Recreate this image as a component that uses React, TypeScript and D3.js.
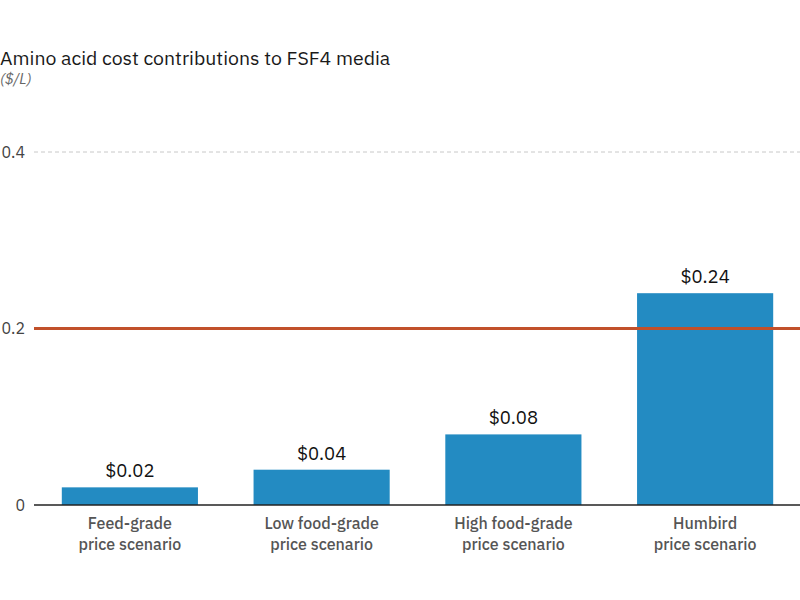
import React from 'react';
import * as d3 from 'd3';

const categories = [
  ['Feed-grade', 'price scenario'],
  ['Low food-grade', 'price scenario'],
  ['High food-grade', 'price scenario'],
  ['Humbird', 'price scenario'],
];
const values = [0.02, 0.04, 0.08, 0.24];
const yTicks = [0, 0.2, 0.4];
const referenceValue = 0.2;

const width = 800;
const height = 600;
const margin = {top: 152, right: 0, bottom: 95, left: 34};

const App: React.FC = () => {
  const x = d3.scaleBand<number>()
    .domain(d3.range(values.length))
    .range([margin.left, width + 1])
    .paddingInner(0.29)
    .paddingOuter(0.145);

  const y = d3.scaleLinear()
    .domain([0, 0.4])
    .range([height - margin.bottom, margin.top]);

  const font = "'IBM Plex Sans', Roboto, 'Noto Sans', sans-serif";

  return (
    <svg width={width} height={height}
         style={{position: 'absolute', left: 0, top: 0, background: '#fff'}}
         fontFamily={font}>
      <text x={0} y={65} fontSize={19.5} fill="#1a1a1a">
        Amino acid cost contributions to FSF4 media
      </text>
      <text x={0} y={84} fontSize={15} fontStyle="italic" fill="#666">($/L)</text>

      {yTicks.map(t => (
        <text key={t} x={25} y={y(t)} dy="0.35em" textAnchor="end"
              fontSize={16} fill="#444">{t === 0 ? '0' : t.toFixed(1)}</text>
      ))}

      {yTicks.filter(t => t !== 0 && t !== referenceValue).map(t => (
        <line key={t} x1={margin.left} x2={width} y1={y(t)} y2={y(t)}
              stroke="#c8c8c8" strokeWidth={1} strokeDasharray="4,3"/>
      ))}

      {values.map((v, i) => (
        <g key={i}>
          <rect x={x(i)} y={y(v)} width={x.bandwidth()} height={y(0) - y(v)}
                fill="#238bc2"/>
          <text x={x(i)! + x.bandwidth() / 2} y={y(v) - 10} textAnchor="middle"
                fontSize={18.5} fill="#111">{d3.format('$.2f')(v)}</text>
          {categories[i].map((line, j) => (
            <text key={j} x={x(i)! + x.bandwidth() / 2} y={y(0) + 24 + j * 21}
                  textAnchor="middle" fontSize={16} fontWeight={500}
                  fill="#555">{line}</text>
          ))}
        </g>
      ))}

      <line x1={margin.left} x2={width} y1={y(0)} y2={y(0)}
            stroke="#222" strokeWidth={1.5}/>
      <line x1={margin.left} x2={width} y1={y(referenceValue)} y2={y(referenceValue)}
            stroke="#c1502a" strokeWidth={3}/>
    </svg>
  );
};

export default App;
